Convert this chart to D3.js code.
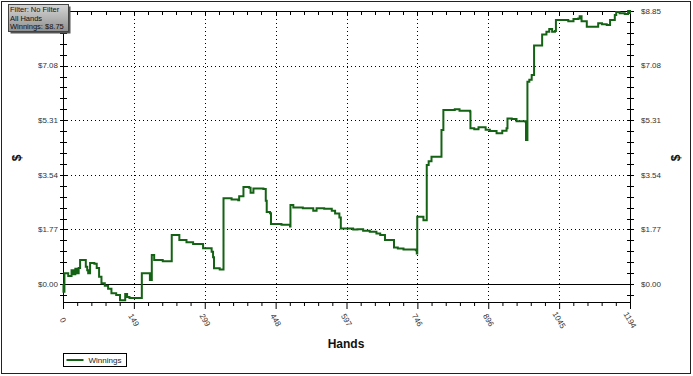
<!DOCTYPE html>
<html>
<head>
<meta charset="utf-8">
<script src="https://cdn.jsdelivr.net/npm/d3@7"></script>
<style>
  body { margin: 0; background: #fff; }
  svg { display: block; font-family: "Liberation Sans", Arial, sans-serif; }
</style>
</head>
<body>
<svg id="chart" width="693" height="376"></svg>
<script>
// hands played / cumulative winnings ($)
const hands = [0, 1, 3, 11, 18, 22, 26, 30, 33, 36, 48, 51, 53, 57, 66, 71, 76, 81, 88, 95,
  102, 112, 120, 129, 131, 135, 140, 166, 183, 187, 192, 210, 229, 245, 260, 274, 295, 313, 316, 318,
  330, 338, 355, 369, 371, 380, 392, 395, 401, 422, 427, 429, 436, 438, 460, 478, 479, 485, 505, 527,
  534, 550, 566, 573, 582, 585, 611, 620, 632, 646, 660, 668, 678, 697, 705, 717, 743, 745, 746, 759,
  766, 770, 776, 797, 801, 825, 835, 857, 858, 866, 875, 890, 899, 913, 925, 934, 936, 945, 955, 974,
  975, 978, 982, 987, 992, 1009, 1018, 1024, 1030, 1036, 1038, 1057, 1064, 1075, 1085, 1088, 1092, 1103, 1124, 1127,
  1135, 1145, 1152, 1162, 1165, 1172, 1183, 1190, 1194];
const winnings = [0.00, -0.25, 0.35, 0.26, 0.45, 0.32, 0.50, 0.35, 0.52, 0.78, 0.56, 0.45, 0.35, 0.68, 0.66, 0.52, 0.24, 0.03, -0.05, -0.15,
  -0.30, -0.35, -0.52, -0.52, -0.32, -0.42, -0.45, 0.35, 0.13, 0.94, 0.78, 0.74, 1.59, 1.43, 1.36, 1.30, 1.16, 1.05, 0.87, 0.51,
  0.47, 2.78, 2.74, 2.72, 2.85, 3.15, 3.12, 2.96, 3.10, 3.08, 2.70, 2.34, 2.30, 1.95, 1.92, 1.87, 2.56, 2.48, 2.46, 2.38,
  2.46, 2.44, 2.38, 2.29, 2.16, 1.80, 1.77, 1.78, 1.73, 1.70, 1.64, 1.59, 1.43, 1.19, 1.15, 1.12, 1.10, 0.99, 2.18, 2.07,
  3.86, 3.98, 4.13, 4.99, 5.64, 5.67, 5.62, 5.59, 5.05, 5.02, 5.08, 5.00, 4.96, 4.89, 4.97, 5.05, 5.37, 5.35, 5.28, 5.26,
  4.67, 6.56, 6.62, 6.78, 7.73, 8.09, 8.18, 8.27, 8.18, 8.20, 8.56, 8.56, 8.52, 8.59, 8.61, 8.68, 8.52, 8.34, 8.34, 8.45,
  8.42, 8.40, 8.56, 8.72, 8.82, 8.78, 8.75, 8.85, 8.75];

const xTicks = [0, 149, 299, 448, 597, 746, 896, 1045, 1194];
const yTicks = [0, 1.77, 3.54, 5.31, 7.08, 8.85];
const infoLines = ["Filter: No Filter", "All Hands", "Winnings: $8.75"];

const svg = d3.select("#chart");
const PLOT = { LEFT: 63, RIGHT: 630, TOP: 11, BOTTOM: 302 };

const x = d3.scaleLinear().domain([0, 1194]).range([PLOT.LEFT, PLOT.RIGHT]);
const y = d3.scaleLinear().domain([-0.58, 8.85]).range([PLOT.BOTTOM, PLOT.TOP]);

// outer frame
svg.append("rect").attr("x", 1.5).attr("y", 1.5).attr("width", 689).attr("height", 372)
  .attr("fill", "none").attr("stroke", "#222").attr("stroke-width", 1);

// dotted grid
const grid = svg.append("g").attr("stroke", "#000").attr("stroke-dasharray", "1,3");
grid.selectAll("line.v").data(xTicks.slice(1, -1)).join("line")
  .attr("x1", d => Math.round(x(d)) + 0.5).attr("x2", d => Math.round(x(d)) + 0.5)
  .attr("y1", PLOT.TOP).attr("y2", PLOT.BOTTOM);
grid.selectAll("line.h").data(yTicks.slice(1, -1)).join("line")
  .attr("x1", PLOT.LEFT).attr("x2", PLOT.RIGHT)
  .attr("y1", d => Math.round(y(d)) + 0.5).attr("y2", d => Math.round(y(d)) + 0.5);

// zero line
svg.append("line").attr("x1", PLOT.LEFT).attr("x2", PLOT.RIGHT)
  .attr("y1", Math.round(y(0)) + 0.5).attr("y2", Math.round(y(0)) + 0.5).attr("stroke", "#000");

// minor tick values
const xMinor = d3.range(0, 40).map(i => i * 1194 / 40);
const yMinor = d3.range(-1, 26).map(i => i * 0.354);

// left / right axes (ticks cross the line)
function yAxisAt(px, labelSide, labels) {
  const g = svg.append("g");
  g.append("line").attr("x1", px + 0.5).attr("x2", px + 0.5).attr("y1", PLOT.TOP).attr("y2", PLOT.BOTTOM).attr("stroke", "#000");
  g.selectAll("line.t").data(yMinor).join("line")
    .attr("x1", px - 3).attr("x2", px + 4)
    .attr("y1", d => Math.round(y(d)) + 0.5).attr("y2", d => Math.round(y(d)) + 0.5)
    .attr("stroke", "#000");
  g.selectAll("text").data(labels).join("text")
    .attr("x", labelSide < 0 ? px - 5 : px + 11)
    .attr("y", d => y(d))
    .attr("dy", "0.35em")
    .attr("text-anchor", labelSide < 0 ? "end" : "start")
    .attr("font-size", 8).attr("fill", "#333")
    .text(d => "$" + d.toFixed(2));
}
// top-left label sits under the info box in the original, so it is left out there
yAxisAt(PLOT.LEFT, -1, yTicks.slice(0, -1));
yAxisAt(PLOT.RIGHT, 1, yTicks);

// top edge with inward ticks
const topG = svg.append("g");
topG.append("line").attr("x1", PLOT.LEFT).attr("x2", PLOT.RIGHT).attr("y1", PLOT.TOP + 0.5).attr("y2", PLOT.TOP + 0.5).attr("stroke", "#000");
topG.selectAll("line.t").data(xMinor).join("line")
  .attr("x1", d => Math.round(x(d)) + 0.5).attr("x2", d => Math.round(x(d)) + 0.5)
  .attr("y1", PLOT.TOP).attr("y2", PLOT.TOP + 4).attr("stroke", "#000");

// bottom x axis
const xAxis = d3.axisBottom(x)
  .tickValues(xMinor.concat([1194]))
  .tickSize(4)
  .tickFormat("");
const xg = svg.append("g").attr("transform", `translate(0,${PLOT.BOTTOM})`).call(xAxis);
xg.select(".domain").attr("stroke", "#000");
xg.selectAll(".tick line").attr("stroke", "#000")
  .attr("y2", d => (Math.round(d * 40 / 1194) % 5 === 0 ? 7 : 4));

svg.append("g").selectAll("text").data(xTicks).join("text")
  .attr("transform", d => `translate(${x(d)},${PLOT.BOTTOM + 18}) rotate(60)`)
  .attr("text-anchor", "middle").attr("dy", "0.35em")
  .attr("font-size", 8).attr("fill", "#333")
  .text(d => d);

// winnings line
const line = d3.line()
  .x((d, i) => x(hands[i]))
  .y(d => y(d))
  .curve(d3.curveStepAfter);
svg.append("path").datum(winnings)
  .attr("d", line)
  .attr("fill", "none").attr("stroke", "#146214").attr("stroke-width", 2);

// axis titles
svg.append("text").attr("x", 346).attr("y", 348).attr("text-anchor", "middle")
  .attr("font-size", 12).attr("font-weight", "bold").attr("fill", "#111").text("Hands");
svg.append("text").attr("transform", "translate(21,158) rotate(-90)").attr("text-anchor", "middle")
  .attr("font-size", 12).attr("font-weight", "bold").attr("fill", "#111").text("$");
svg.append("text").attr("transform", "translate(680,158) rotate(-90)").attr("text-anchor", "middle")
  .attr("font-size", 12).attr("font-weight", "bold").attr("fill", "#111").text("$");

// legend
const lg = svg.append("g").attr("transform", "translate(63.5,353.5)");
lg.append("rect").attr("width", 63).attr("height", 13).attr("fill", "#fff").attr("stroke", "#000");
lg.append("line").attr("x1", 3).attr("x2", 20).attr("y1", 6.5).attr("y2", 6.5)
  .attr("stroke", "#146214").attr("stroke-width", 2);
lg.append("text").attr("x", 25).attr("y", 6.5).attr("dy", "0.35em")
  .attr("font-size", 8).attr("fill", "#222").text("Winnings");

// info box top-left
const defs = svg.append("defs");
const grad = defs.append("linearGradient").attr("id", "infoGrad").attr("x1", 0).attr("y1", 0).attr("x2", 0).attr("y2", 1);
grad.append("stop").attr("offset", "0%").attr("stop-color", "#d6d6d6");
grad.append("stop").attr("offset", "100%").attr("stop-color", "#8f8f8f");
svg.append("rect").attr("x", 10.5).attr("y", 6.5).attr("width", 60).attr("height", 27).attr("fill", "#555");
svg.append("rect").attr("x", 8.5).attr("y", 4.5).attr("width", 60).attr("height", 27)
  .attr("fill", "url(#infoGrad)").attr("stroke", "#444");
svg.append("g").selectAll("text").data(infoLines).join("text")
  .attr("x", 10).attr("y", (d, i) => 12 + i * 8.5)
  .attr("font-size", 7.5).attr("fill", "#111").text(d => d);
</script>
</body>
</html>
